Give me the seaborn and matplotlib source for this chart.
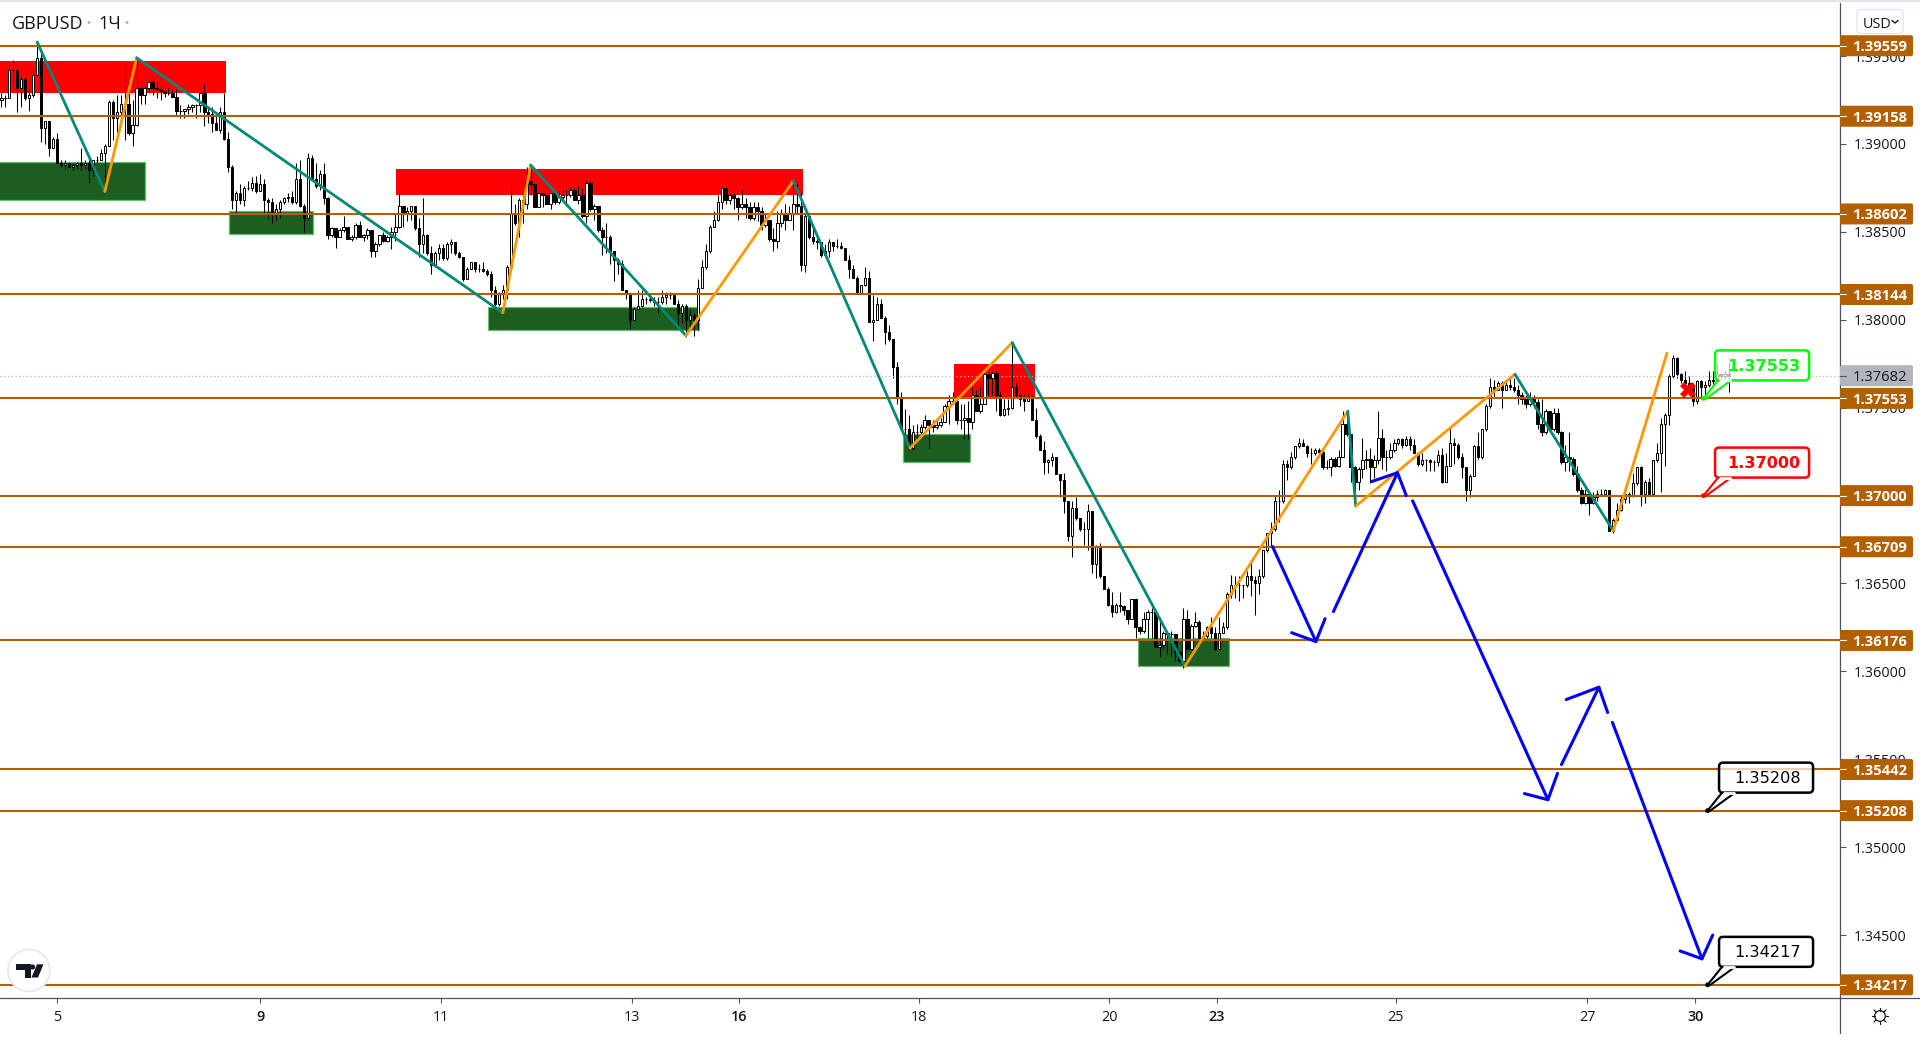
import matplotlib
matplotlib.use("Agg")
import matplotlib.pyplot as plt
from matplotlib.patches import FancyBboxPatch, Circle, Polygon, Rectangle
from matplotlib.lines import Line2D
import seaborn as sns

# ---------- candle data: pips above 1.30000 ----------
closes = [
926,926,942,942,932,937,926,928,939,949,
909,913,898,903,889,888,889,887,888,889,
888,889,885,891,891,895,899,924,915,918,
923,923,906,911,932,928,932,935,932,931,
930,929,929,927,919,919,920,921,922,922,
929,918,917,912,908,918,903,887,868,872,
868,875,875,878,873,877,868,867,861,863,
867,869,870,867,880,865,858,892,880,876,
883,869,848,852,847,851,853,846,847,854,
847,848,851,839,843,848,845,847,850,853,
865,861,862,865,852,843,848,838,831,838,
841,835,843,844,838,836,823,829,833,829,
829,828,826,817,809,815,817,830,860,855,
868,866,879,877,864,872,871,866,872,867,
870,871,871,874,868,871,859,878,863,865,
851,847,847,839,834,832,817,815,800,806,
808,812,812,811,810,810,813,814,814,809,
804,808,800,803,800,818,830,839,853,857,
867,875,868,871,869,864,866,864,858,864,
862,854,857,846,845,855,860,857,860,866,
865,831,859,847,845,844,837,839,844,842,
842,841,834,829,824,815,820,824,799,800,
809,801,793,789,773,756,738,738,727,736,
736,739,743,740,739,740,742,751,754,754,
743,743,744,742,757,748,752,769,767,770,
757,746,749,750,762,757,755,754,756,743,
734,726,719,720,722,712,709,697,677,693,
687,681,681,691,661,671,654,647,638,634,
638,637,635,630,641,625,623,630,634,634,
614,615,622,621,621,611,606,630,613,626,
628,619,620,625,622,613,622,625,644,649,
649,649,649,654,652,650,654,669,679,681,
697,697,718,716,722,728,730,728,724,724,
726,725,716,716,721,717,722,741,735,716,
708,715,720,721,716,720,733,722,722,726,
730,732,729,732,729,724,718,720,720,719,
719,723,708,717,730,729,722,716,703,711,
728,722,738,751,762,760,764,760,763,762,
760,757,755,752,755,753,741,736,748,738,
747,736,719,722,721,712,703,696,701,696,
699,701,701,703,680,686,692,698,701,700,
707,716,701,708,701,720,724,741,746,768,
778,769,766,764,762,754,765,762,763,766,
765,769,768,769,768]
highs = [
929,928,945,948,943,939,938,932,943,958,
951,913,913,904,906,891,891,889,889,890,
898,891,891,891,893,897,900,925,925,928,
928,946,936,925,949,936,934,938,937,935,
934,932,932,931,931,922,920,923,923,923,
929,934,921,921,917,921,929,907,888,873,
877,876,879,881,882,883,880,869,869,866,
868,870,872,873,889,891,866,895,894,889,
885,889,870,853,852,852,859,853,848,855,
856,849,852,851,844,848,850,848,853,861,
872,865,864,865,865,858,869,849,842,839,
843,843,844,846,844,839,836,830,833,833,
832,833,829,828,819,816,820,831,877,866,
869,871,887,888,878,872,873,872,872,872,
874,874,874,875,875,876,875,879,879,866,
865,853,855,848,839,835,834,817,815,807,
817,817,813,814,813,813,817,816,816,815,
811,809,809,806,804,823,834,843,854,862,
871,875,875,872,872,870,874,869,867,867,
867,864,860,857,852,862,863,866,865,879,
878,873,860,860,853,847,844,843,846,844,
846,844,841,837,831,825,820,830,828,814,
813,812,802,797,789,776,759,749,746,740,
741,741,746,743,743,743,744,752,757,759,
755,752,752,754,762,760,762,770,770,771,
771,759,755,755,786,764,758,758,758,757,
750,735,731,721,724,722,712,713,697,697,
699,687,685,695,691,672,673,654,648,645,
639,645,638,635,641,641,626,634,635,636,
634,631,623,622,623,621,612,636,635,627,
634,629,623,626,631,625,631,628,645,655,
654,654,649,657,662,654,658,669,679,685,
700,703,720,720,725,728,733,732,729,727,
727,727,726,720,722,722,726,748,748,735,
717,716,733,726,727,723,748,738,726,730,
732,733,733,734,734,732,725,724,721,721,
720,726,727,724,739,733,730,724,716,712,
729,736,738,752,767,766,765,765,766,768,
767,763,759,757,759,757,755,755,749,748,
750,750,737,729,736,722,717,705,704,701,
702,703,704,704,700,687,696,700,702,702,
713,716,717,709,710,720,730,744,747,769,
780,779,770,771,768,764,766,766,765,771,
771,775,770,771,776]
lows = [
921,921,926,933,918,921,925,919,927,939,
901,900,893,898,889,887,886,887,885,886,
885,886,878,882,889,891,873,899,902,906,
910,902,905,899,910,923,923,929,928,926,
925,927,928,927,916,915,915,917,918,915,
918,910,912,907,908,906,902,884,863,861,
866,865,874,873,872,873,861,858,855,857,
858,866,867,866,866,864,850,857,879,875,
874,866,846,847,841,847,850,846,845,846,
847,845,846,836,836,842,844,844,840,845,
852,853,856,857,851,836,838,837,826,830,
834,834,834,838,837,835,822,823,829,827,
827,827,825,813,807,808,812,812,829,854,
847,855,863,871,864,864,864,866,863,866,
866,867,865,870,868,866,858,855,862,857,
850,837,838,832,822,826,817,812,795,800,
806,807,809,810,808,804,809,809,812,809,
797,798,790,795,791,794,818,829,838,853,
856,863,866,866,863,857,863,858,857,857,
856,851,853,845,839,841,853,851,857,851,
860,828,827,846,843,840,836,836,836,839,
841,840,834,824,824,815,815,819,799,788,
800,801,786,788,767,752,738,733,726,726,
731,735,738,727,736,738,739,742,741,752,
741,738,732,732,738,748,747,752,757,757,
748,745,745,746,749,756,751,748,754,743,
733,726,712,713,717,712,699,690,674,665,
686,680,672,669,656,653,653,647,637,631,
633,634,632,627,630,619,621,622,619,619,
614,609,613,610,609,606,606,602,612,613,
625,618,618,619,619,612,613,622,624,642,
642,640,642,648,643,632,644,653,668,671,
680,685,696,709,715,721,727,728,722,718,
723,722,715,715,711,716,716,725,734,708,
695,703,710,715,707,710,718,715,714,721,
725,729,727,728,726,724,717,717,714,714,
714,717,707,708,717,718,721,710,697,699,
711,721,721,737,750,756,760,750,760,760,
759,752,752,750,751,750,738,734,735,737,
737,735,718,714,714,711,702,695,695,689,
695,697,700,701,680,679,686,691,696,696,
699,706,694,696,701,700,719,702,717,740,
767,767,764,760,757,751,752,755,757,762,
763,766,767,766,759]
open_first = 925
opens = [open_first] + closes[:-1]

# ---------- levels, ticks ----------
level_prices = [1.39559, 1.39158, 1.38602, 1.38144, 1.37553, 1.37000,
                1.36709, 1.36176, 1.35442, 1.35208, 1.34217]
level_labels = ["1.39559", "1.39158", "1.38602", "1.38144", "1.37553", "1.37000",
                "1.36709", "1.36176", "1.35442", "1.35208", "1.34217"]
last_price = 1.37682
last_label = "1.37682"
price_ticks = [1.395, 1.39, 1.385, 1.38, 1.375, 1.37, 1.365, 1.36, 1.355, 1.35, 1.345]
price_tick_labels = ["1.39500", "1.39000", "1.38500", "1.38000", "1.37500", "1.37000",
                     "1.36500", "1.36000", "1.35500", "1.35000", "1.34500"]
time_ticks = [14, 65, 110.4, 158.4, 185.4, 230.6, 278.4, 305.4, 350.4, 398.5, 425.6]
time_labels = ["5", "9", "11", "13", "16", "18", "20", "23", "25", "27", "30"]
time_bold = ["9", "16", "23", "30"]

# ---------- zones: bar start, bar end, pips top, pips bottom ----------
red_zones = [(-2, 56.5, 947, 929), (99.2, 201.4, 886, 871), (239.4, 259.7, 775, 756)]
green_zones = [(-2, 36.2, 890, 868), (57.1, 78.2, 862, 849), (122.4, 175.4, 807, 794),
               (226.5, 243.5, 735, 719), (285.5, 308.5, 619, 603)]

# ---------- zigzag ----------
zig_bars = [9, 26, 34, 126, 133, 172, 199, 228.3, 254, 297.4, 338.3, 340.3, 380.3, 405, 418.5]
zig_pips = [958, 873, 949, 804, 888, 791, 879, 727, 787, 603, 748, 694, 769, 680, 781]

# ---------- blue forecast paths ----------
blue_bars = [[319.4, 330.3, 332.6], [324.2, 330.3], [334.7, 350.8, 353], [344.3, 350.8],
             [354.6, 388.6, 391], [382.7, 388.6], [392, 401.4, 403.6], [393.2, 401.4],
             [404.8, 427.3, 430], [421.8, 427.3]]
blue_pips = [[671, 617, 630], [622, 617], [634, 713, 700], [708, 713],
             [697, 527, 542], [530.5, 527], [547, 591, 576.6], [584, 591],
             [571, 436.5, 450], [441, 436.5]]

# ---------- callouts ----------
callout_bars = [427.7, 427.7, 428.7, 428.7]
callout_prices = [1.37553, 1.37000, 1.35208, 1.34217]
callout_labels = ["1.37553", "1.37000", "1.35208", "1.34217"]
callout_colors = ["#00ff00", "#ff0000", "#000000", "#000000"]
cross_bar, cross_pip = 423.8, 760

BROWN = "#b25f00"
TEAL = "#00897b"
ORANGE = "#ff9800"
AXC = "#50535e"
TXT = "#131722"

def px(p):
    return 1.3 + p / 10000

sns.set_theme(style="white")
plt.rcParams["font.family"] = ["Open Sans", "DejaVu Sans"]

fig = plt.figure(figsize=(19.2, 10.42), dpi=100, facecolor="white")
W, H = 1920, 1042
ax = fig.add_axes([0, 1 - 998 / H, 1840 / W, (998 - 3) / H])
ax.set_xlim(-0.334, 461.98)
ax.set_ylim(1.341422, 1.39802)

# zones
for x0, x1, t, b in red_zones:
    ax.add_patch(Rectangle((x0, px(b)), x1 - x0, px(t) - px(b), fc="#ff0000", ec="none", zorder=1))
for x0, x1, t, b in green_zones:
    ax.add_patch(Rectangle((x0, px(b)), x1 - x0, px(t) - px(b), fc="#1b5e20", ec="#66bb6a", lw=0.9, zorder=1))

# candles
idx = list(range(len(closes)))
ax.vlines(idx, [px(v) for v in lows], [px(v) for v in highs], color="black", lw=0.75, zorder=2)
up = [i for i in idx if closes[i] >= opens[i]]
dn = [i for i in idx if closes[i] < opens[i]]
ax.bar(up, [px(closes[i]) - px(opens[i]) for i in up], bottom=[px(opens[i]) for i in up],
       width=0.6, color="white", edgecolor="black", lw=0.7, zorder=3)
ax.bar(dn, [px(opens[i]) - px(closes[i]) for i in dn], bottom=[px(closes[i]) for i in dn],
       width=0.6, color="black", edgecolor="black", lw=0.7, zorder=3)

# levels + last price line
ax.axhline(last_price, color="#b2b5be", lw=0.9, ls=(0, (1, 2)), zorder=2)
for lv in level_prices:
    ax.axhline(lv, color=BROWN, lw=1.5, zorder=4)

# zigzag
for k in range(len(zig_bars) - 1):
    col = TEAL if zig_pips[k + 1] < zig_pips[k] else ORANGE
    sns.lineplot(x=zig_bars[k:k + 2], y=[px(v) for v in zig_pips[k:k + 2]], color=col, lw=2.0,
                 sort=False, estimator=None, ax=ax, zorder=5, legend=False)

# blue forecast
for bx, bp in zip(blue_bars, blue_pips):
    sns.lineplot(x=bx, y=[px(v) for v in bp], color="#0000ff", lw=2.2, sort=False, estimator=None,
                 ax=ax, zorder=5, legend=False)

ax.plot([cross_bar], [px(cross_pip)], marker="X", ms=11.5, color="#ff0000", mew=0, zorder=6)

# axes dressing
for s in ["top", "left"]:
    ax.spines[s].set_visible(False)
for s in ["right", "bottom"]:
    ax.spines[s].set_color(AXC)
    ax.spines[s].set_linewidth(0.9)
ax.yaxis.tick_right()
ax.set_yticks(price_ticks)
ax.set_yticklabels(price_tick_labels)
ax.tick_params(axis="y", length=4.3, width=0.8, color=AXC, pad=5.5, labelsize=10.4, labelcolor=TXT,
               right=True, left=False)
ax.set_xticks(time_ticks)
ax.set_xticklabels(time_labels)
ax.tick_params(axis="x", length=3.5, width=0.8, color=AXC, pad=5, labelsize=10.4, labelcolor=TXT, bottom=True)
for lab in ax.get_xticklabels():
    if lab.get_text() in time_bold:
        lab.set_fontweight("semibold")
ax.set_xlabel("")
ax.set_ylabel("")

# overlay in pixel space for tags, callouts and chrome
ov = fig.add_axes([0, 0, 1, 1], zorder=10)
ov.set_xlim(0, W)
ov.set_ylim(H, 0)
ov.axis("off")
ov.patch.set_alpha(0)
fig.canvas.draw()

def to_px(b, p):
    d = ax.transData.transform((b, p))
    return d[0], H - d[1]

# price tags
def tag(price, label, fc, tc, weight):
    _, y = to_px(0, price)
    ov.add_patch(FancyBboxPatch((1840, y - 10.5), 73, 21, boxstyle="round,pad=0,rounding_size=2",
                                fc=fc, ec="none", zorder=3))
    ov.add_line(Line2D([1840, 1846], [y, y], color="white" if fc == BROWN else AXC, lw=0.8, zorder=4))
    ov.text(1880, y, label, color=tc, fontsize=10.6, fontweight=weight, ha="center", va="center_baseline", zorder=5)

tag(last_price, last_label, "#b2b5be", TXT, "normal")
for lv, lab in zip(level_prices, level_labels):
    tag(lv, lab, BROWN, "white", "bold")

# callouts
for b, p, lab, col in zip(callout_bars, callout_prices, callout_labels, callout_colors):
    x, y = to_px(b, p)
    bx, by, bw, bh = x + 11.5, y - 48, 94, 30
    ov.add_line(Line2D([x, bx + 3], [y, by + bh], color=col, lw=1.5, zorder=6))
    ov.add_line(Line2D([x + 2, bx + 16], [y + 0.5, by + bh], color=col, lw=1.5, zorder=6))
    ov.add_patch(FancyBboxPatch((bx, by), bw, bh, boxstyle="round,pad=0,rounding_size=4",
                                fc=(1, 1, 1, 0.72), ec=col, lw=1.8, zorder=7))
    ov.add_line(Line2D([bx + 4.5, bx + 14.5], [by + bh, by + bh], color="white", lw=2, zorder=8))
    ov.add_patch(Circle((x, y), 2.4, fc=col, ec="none", zorder=9))
    ov.text(bx + bw / 2 + 2, by + bh / 2 - 0.5, lab, color=col, fontsize=11.6, family="DejaVu Sans",
            fontweight="bold" if col != "#000000" else "normal", ha="center", va="center_baseline", zorder=9)

# chrome
ov.add_patch(Rectangle((0, 0), W, 2.2, fc="#e0e3eb", ec="none"))
ov.add_line(Line2D([1840, W], [998, 998], color=AXC, lw=0.9))
ov.add_line(Line2D([1840, 1840], [998, 1032.5], color=AXC, lw=0.9))
ov.text(12, 22, "GBPUSD", color=TXT, fontsize=13, ha="left", va="center_baseline")
ov.text(98, 22, "1Ч", color=TXT, fontsize=13, ha="left", va="center_baseline")
for dx in (89, 127):
    ov.add_patch(Circle((dx, 22.5), 1.5, fc="#b2b5be", ec="none"))
ov.add_patch(FancyBboxPatch((1857, 9.5), 46, 24, boxstyle="round,pad=0,rounding_size=4",
                            fc="white", ec="#e0e3eb", lw=0.9))
ov.text(1863, 22, "USD", color=TXT, fontsize=10.4, ha="left", va="center_baseline")
ov.add_line(Line2D([1892, 1895, 1898], [20.5, 23, 20.5], color=TXT, lw=1))
# gear
ov.add_patch(Circle((1880, 1016), 5.3, fc="white", ec=TXT, lw=0.9))
for a, c in [((1880, 1007.7), (1880, 1010.5)), ((1880, 1021.5), (1880, 1024.3)),
             ((1871.7, 1016), (1874.5, 1016)), ((1885.5, 1016), (1888.3, 1016)),
             ((1874, 1010), (1876, 1012)), ((1884, 1020), (1886, 1022)),
             ((1886, 1010), (1884, 1012)), ((1876, 1020), (1874, 1022))]:
    ov.add_line(Line2D([a[0], c[0]], [a[1], c[1]], color=TXT, lw=0.9))
# logo
ov.add_patch(Circle((29, 970.5), 21, fc="white", ec="#e9e9ea", lw=1.3, zorder=3))
ov.add_patch(Polygon([(16, 964.3), (31, 964.3), (31, 977.5), (24.5, 977.5), (24.5, 970), (16, 970)],
                     fc=TXT, ec="none", zorder=4))
ov.add_patch(Circle((32.5, 967), 2.6, fc=TXT, ec="none", zorder=4))
ov.add_patch(Polygon([(37, 964.3), (43.5, 964.3), (38, 977.5), (31.5, 977.5)], fc=TXT, ec="none", zorder=4))

fig.savefig("out.png", dpi=100, facecolor="white")
